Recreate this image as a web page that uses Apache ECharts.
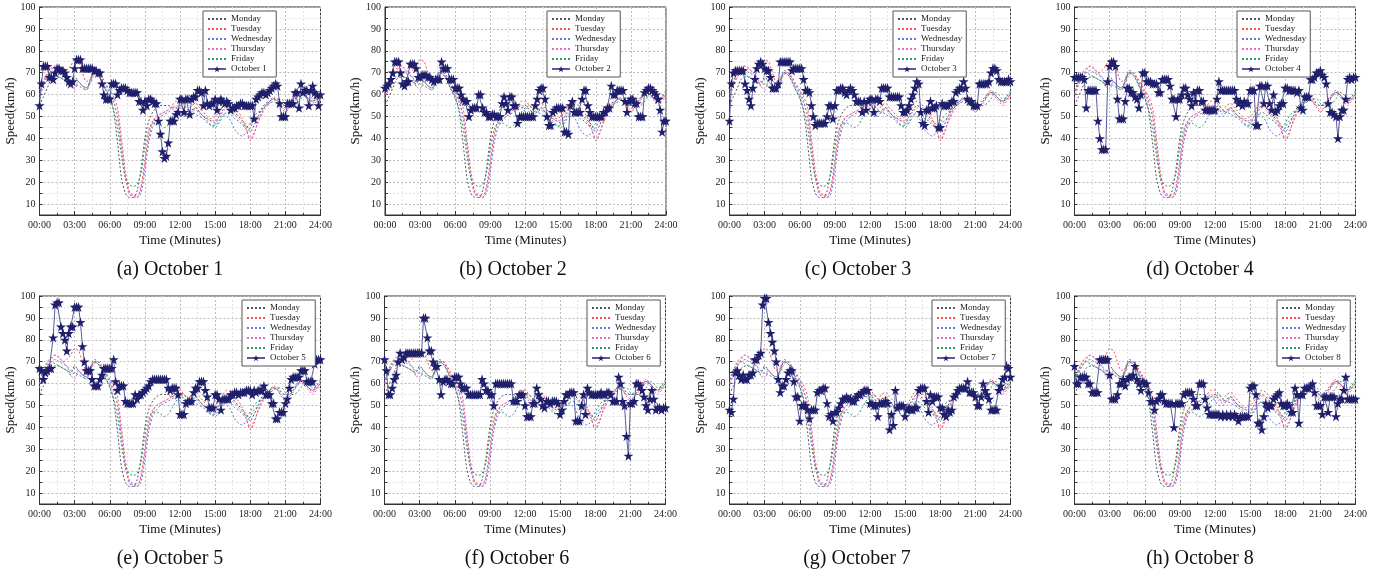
<!DOCTYPE html>
<html>
<head>
<meta charset="utf-8">
<script src="https://cdn.jsdelivr.net/npm/echarts@6/dist/echarts.min.js"></script>
<style>
    html, body { margin: 0; padding: 0; background: #fff; }
    #main { width: 1386px; height: 572px; }
</style>
</head>
<body>
<div id="main"></div>
<script>
    // weekday profiles, one value every 20 minutes (00:00 .. 24:00)
    var weekStep = 20;
    var monday = [55,59,63, 67,68,68, 67,66,65, 68,66,64, 63,66,70, 69,66,62, 59,52,38, 22,15,13,
        13,16,26, 40,48,52, 54,55,55, 55,54,54, 55,53,52, 53,54,52, 50,49,48, 47,50,53,
        55,54,52, 50,48,46, 43,46,50, 54,56,57, 58,58,56, 55,55,57, 59,61,60, 58,57,58, 60];
    var tuesday = [60,66,70, 72,73,72, 70,71,73, 76,75,70, 66,67,70, 70,68,65, 62,59,54, 40,25,16,
        14,13,18, 30,42,48, 50,51,52, 53,55,57, 57,55,53, 55,56,54, 52,50,49, 50,52,55,
        57,56,54, 52,49,44, 39,42,48, 52,55,57, 59,57,54, 52,54,57, 60,62,60, 58,56,58, 60];
    var wednesday = [60,65,68, 70,71,70, 69,68,66, 67,66,64, 63,67,71, 70,67,64, 61,57,50, 36,22,15,
        13,13,15, 25,38,45, 48,50,51, 52,53,54, 52,50,50, 52,51,50, 49,47,46, 46,48,51,
        50,48,44, 42,41,43, 45,48,50, 53,55,57, 58,57,55, 55,56,58, 60,61,60, 58,57,59, 61];
    var thursday = [58,64,68, 71,73,72, 70,68,64, 62,66,64, 62,65,69, 70,67,63, 60,56,50, 36,22,15,
        14,14,17, 28,40,47, 50,51,52, 53,54,55, 54,52,51, 52,53,51, 50,49,48, 48,50,52,
        54,53,51, 49,47,44, 40,43,47, 51,54,56, 58,57,55, 53,54,56, 59,61,59, 57,55,57, 59];
    var friday = [62,66,69, 70,69,68, 67,66,64, 65,64,63, 62,66,70, 69,66,62, 58,53,45, 32,22,19,
        18,19,24, 36,44,47, 47,46,45, 46,49,52, 54,55,53, 52,54,52, 50,48,46, 45,47,50,
        52,51,49, 48,46,45, 47,50,52, 53,55,56, 57,58,58, 56,55,55, 56,58,61, 60,58,59, 62];

    // October days, one value every 10 minutes (00:00 .. 24:00)
    var dayStep = 10;
    var october1 = [55,65,73,73,73,68, 68,67,70,72,72,71, 71,70,68,66,65,66, 72,76,76,76,72,72,
        72,72,72,72,71,71, 70,70,65,60,58,58, 58,65,65,65,60,62, 63,63,63,62,61,61,
        61,61,61,57,57,53, 57,55,58,58,57,56, 56,48,42,34,31,32, 38,48,48,48,51,52,
        58,58,52,58,58,51, 58,59,59,62,62,61, 55,62,56,55,56,56, 58,53,57,58,57,56,
        57,56,53,54,54,55, 55,56,56,55,55,55, 55,55,49,58,59,60, 61,61,60,61,62,63,
        64,65,64,56,50,50, 50,56,56,56,56,61, 61,54,65,61,62,62, 55,62,64,61,60,55, 60];
    var october2 = [63,64,65,67,70,75, 75,75,70,65,64,66, 66,74,74,74,72,68, 68,69,69,69,68,68,
        67,66,67,67,67,75, 72,72,72,67,67,67, 63,63,63,60,58,57, 57,50,53,54,54,54,
        60,60,54,52,52,50, 50,51,51,50,50,50, 56,59,56,53,59,59, 55,55,47,50,50,50,
        50,50,50,50,50,55, 58,62,63,63,58,50, 46,46,52,53,54,54, 54,54,43,43,42,55,
        57,52,52,52,52,58, 62,62,55,52,50,50, 50,50,50,50,52,52, 54,54,64,60,60,62,
        62,62,62,57,52,57, 58,58,56,56,50,50, 50,61,62,63,63,62, 61,60,58,53,43,48, 48];
    var october3 = [48,65,70,71,71,71, 71,71,65,62,58,55, 63,67,72,74,75,74, 72,71,71,68,63,63,
        63,65,75,75,75,75, 75,75,71,72,72,72, 72,72,67,62,62,61, 55,50,46,47,47,47,
        47,47,50,55,55,49, 55,62,62,63,63,61, 60,62,63,62,60,57, 57,57,52,57,53,57,
        58,58,52,58,58,57, 63,63,63,63,59,59, 59,59,59,59,55,52, 52,53,55,58,60,63,
        66,65,52,47,46,53, 53,57,54,54,55,45, 45,56,55,55,55,56, 57,57,61,62,63,63,
        66,63,58,57,57,55, 55,55,65,65,65,65, 65,66,70,72,72,71, 67,66,66,66,66,67, 66];
    var october4 = [68,68,68,68,68,67, 54,62,62,62,62,62, 48,40,35,35,35,66, 73,75,75,73,58,49,
        49,49,57,63,63,61, 61,59,58,54,60,70, 70,66,66,66,65,65, 65,61,61,67,67,67,
        67,64,58,58,50,58, 58,60,63,63,60,58, 55,61,57,62,62,57, 57,53,53,53,53,53,
        53,58,66,62,62,62, 62,62,62,62,62,58, 56,57,55,57,56,56, 62,62,62,46,46,64,
        64,56,64,64,56,53, 60,52,53,55,56,56, 63,63,62,62,62,62, 61,62,54,53,59,59,
        59,67,67,68,70,70, 71,69,68,65,56,52, 52,51,50,40,50,53, 53,58,67,68,67,68, 68];
    var october5 = [67,66,62,65,66,67, 67,81,96,97,97,86, 83,80,75,83,86,86, 95,95,95,88,77,70,
        66,66,66,62,59,59, 59,62,64,67,67,67, 67,67,71,61,57,59, 59,59,52,51,51,51,
        51,55,53,55,55,56, 57,58,59,61,62,62, 62,62,62,62,62,62, 58,57,58,58,58,55,
        46,46,46,51,52,52, 52,56,58,58,61,61, 61,57,54,49,49,49, 55,55,53,48,53,53,
        53,53,55,55,56,56, 55,56,56,56,57,57, 57,55,57,56,57,57, 57,59,55,55,55,51,
        51,44,44,47,47,47, 51,53,58,62,63,63, 63,63,66,66,66,61, 61,61,61,69,71,71, 71];
    var october6 = [71,66,55,55,58,62, 64,70,74,71,72,74, 74,74,74,74,74,74, 74,74,90,90,81,75,
        75,70,68,68,62,55, 61,62,62,61,60,60, 63,63,63,60,58,58, 58,55,55,55,55,55,
        55,55,62,60,57,57, 55,55,50,60,60,60, 60,60,60,60,60,60, 52,52,52,55,55,55,
        50,45,45,45,51,51, 58,55,53,50,49,52, 52,51,52,52,52,51, 46,48,52,55,55,56,
        56,56,43,43,43,50, 55,46,58,56,55,55, 55,55,55,56,55,55, 56,56,55,52,52,52,
        63,60,52,50,36,27, 51,51,52,60,60,59, 57,54,50,48,53,57, 53,48,49,49,48,49, 49];
    var october7 = [48,47,53,65,66,64, 62,64,62,62,64,64, 65,71,71,73,74,96, 99,99,88,83,79,75,
        70,62,56,59,59,62, 65,66,66,61,54,54, 43,50,50,50,48,44, 48,48,48,56,57,57,
        58,58,51,45,46,43, 47,47,49,51,53,53, 54,53,53,52,52,54, 55,55,56,57,57,57,
        51,51,50,50,45,51, 51,51,52,51,39,46, 41,57,49,50,50,50, 45,48,49,48,48,49,
        49,57,58,58,58,52, 47,55,52,54,54,54, 49,49,46,45,48,47, 48,54,55,57,58,58,
        58,58,61,56,56,56, 54,50,50,54,60,57, 55,53,48,48,48,48, 57,59,62,63,68,67, 63];
    var october8 = [68,60,60,63,63,63, 63,60,60,56,56,56, 56,71,71,71,71,71, 64,53,53,53,55,60,
        60,62,59,62,63,63, 64,68,62,60,57,61, 60,60,56,52,52,48, 52,53,55,55,52,51,
        51,51,51,40,51,51, 51,51,55,56,56,56, 56,53,50,50,60,60, 60,53,49,46,46,46,
        46,46,46,45,46,45, 46,45,46,45,46,45, 43,45,45,45,45,45, 58,59,59,55,42,42,
        39,45,51,49,50,50, 53,54,55,56,51,50, 50,51,50,47,47,58, 55,42,55,55,58,58,
        58,59,60,56,50,50, 50,46,54,54,47,54, 54,54,45,51,53,53, 57,63,53,53,53,53, 53];

    var octoberDays = [october1, october2, october3, october4, october5, october6, october7, october8];
    var weekdays = [monday, tuesday, wednesday, thursday, friday];
    var weekdayNames = ['Monday', 'Tuesday', 'Wednesday', 'Thursday', 'Friday'];
    var weekdayColors = ['#555555', '#ff4b4b', '#5a78e6', '#e06ccc', '#2f9a6a'];
    var timeLabels = ['00:00', '03:00', '06:00', '09:00', '12:00', '15:00', '18:00', '21:00', '24:00'];
    var captions = ['(a) October 1', '(b) October 2', '(c) October 3', '(d) October 4',
        '(e) October 5', '(f) October 6', '(g) October 7', '(h) October 8'];

    // layout of the 2 x 4 panels
    var plotLefts = [39.5, 385, 729.5, 1074.5, 39.5, 384.5, 729.5, 1074.5];
    var plotTops = [7, 7, 7, 7, 296, 296, 296, 296];
    var legendLefts = [203, 547, 893, 1237, 242, 587, 932, 1277];
    var captionCenters = [165, 508, 853, 1195, 165, 512, 852, 1195];
    var plotW = 281, plotH = 208;

    var serif = 'Liberation Serif';
    var star = 'path://M50,0 L61,35 L98,35 L68,57 L79,91 L50,70 L21,91 L32,57 L2,35 L39,35 Z';

    function toPairs(arr, step) {
        var out = [];
        for (var i = 0; i < arr.length; i++) out.push([i * step, arr[i]]);
        return out;
    }

    var grids = [], xAxes = [], yAxes = [], series = [], legends = [], titles = [];

    for (var p = 0; p < 8; p++) {
        grids.push({
            left: plotLefts[p], top: plotTops[p], width: plotW, height: plotH,
            show: true, borderColor: '#333', borderWidth: 1, backgroundColor: '#fff'
        });
        xAxes.push({
            type: 'value', gridIndex: p, min: 0, max: 1440, interval: 180,
            name: 'Time (Minutes)', nameLocation: 'middle', nameGap: 19,
            nameTextStyle: {fontFamily: serif, fontSize: 13, color: '#111'},
            axisLine: {lineStyle: {color: '#333'}},
            axisTick: {inside: true, length: 4, lineStyle: {color: '#333'}},
            minorTick: {show: true, splitNumber: 2, length: 2, lineStyle: {color: '#333'}},
            axisLabel: {
                fontFamily: serif, fontSize: 10, color: '#222', margin: 5,
                formatter: function (v) { return timeLabels[Math.round(v / 180)]; }
            },
            splitLine: {show: true, lineStyle: {color: '#bbb', type: [2, 2]}},
            minorSplitLine: {show: true, lineStyle: {color: '#e2e2e2', type: [2, 2]}}
        });
        yAxes.push({
            type: 'value', gridIndex: p, min: 5, max: 100, interval: 5,
            name: 'Speed(km/h)', nameLocation: 'middle', nameGap: 22,
            nameTextStyle: {fontFamily: serif, fontSize: 13, color: '#111'},
            axisLine: {show: true, lineStyle: {color: '#333'}},
            axisTick: {inside: true, length: 3, lineStyle: {color: '#333'}},
            axisLabel: {
                fontFamily: serif, fontSize: 10, color: '#222', margin: 4,
                formatter: function (v) { return v % 10 === 0 ? String(v) : ''; }
            },
            splitLine: {show: true, lineStyle: {color: ['#e2e2e2', '#bbb'], type: [2, 2]}}
        });

        var legendItems = [];
        for (var w = 0; w < 5; w++) {
            // hide the legend marker so only the dashed line sample remains
            legendItems.push({name: weekdayNames[w], itemStyle: {opacity: 0}});
            series.push({
                type: 'line', name: weekdayNames[w], xAxisIndex: p, yAxisIndex: p,
                data: toPairs(weekdays[w], weekStep), symbol: 'circle', showSymbol: false,
                smooth: 0.3,
                lineStyle: {color: weekdayColors[w], width: 1, type: [2, 2]},
                itemStyle: {color: weekdayColors[w]}, z: 2
            });
        }
        var octName = 'October ' + (p + 1);
        legendItems.push({name: octName});
        series.push({
            type: 'line', name: octName, xAxisIndex: p, yAxisIndex: p,
            data: toPairs(octoberDays[p], dayStep),
            symbol: star, symbolSize: 10, showSymbol: true,
            lineStyle: {color: '#5b5b9c', width: 1},
            itemStyle: {color: '#1f1f6b', borderWidth: 0}, z: 3
        });

        legends.push({
            data: legendItems, orient: 'vertical', left: legendLefts[p], top: plotTops[p] + 4,
            itemWidth: 18, itemHeight: 8, itemGap: 0,
            padding: [3, 4, 3, 4],
            borderColor: '#555', borderWidth: 1, backgroundColor: '#fff',
            textStyle: {fontFamily: serif, fontSize: 9, lineHeight: 10, color: '#222'}
        });

        titles.push({
            text: captions[p], left: captionCenters[p], top: plotTops[p] + 248,
            textAlign: 'center',
            textStyle: {fontFamily: serif, fontSize: 20, fontWeight: 'normal', color: '#111'}
        });
    }

    var chart = echarts.init(document.getElementById('main'));
    chart.setOption({
        animation: false,
        backgroundColor: '#fff',
        title: titles,
        legend: legends,
        grid: grids,
        xAxis: xAxes,
        yAxis: yAxes,
        series: series
    });
</script>
</body>
</html>
